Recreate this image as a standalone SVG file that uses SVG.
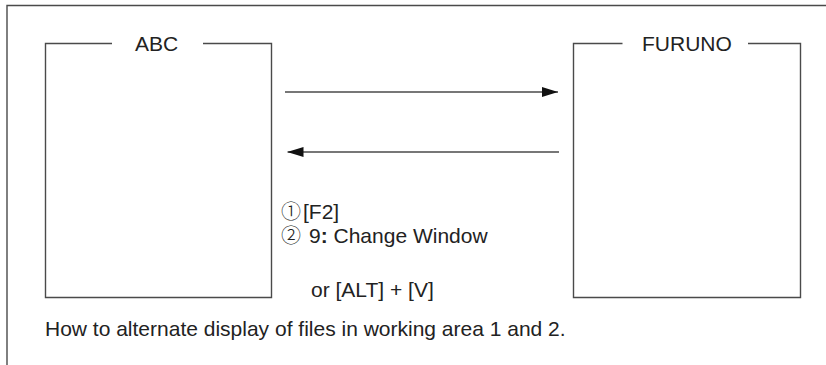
<svg xmlns="http://www.w3.org/2000/svg" width="826" height="365" viewBox="0 0 826 365">
<style>
.ln{fill:none;stroke:#4a4a4a;stroke-width:1.4}
.t{font-family:"Liberation Sans",Arial,sans-serif;font-size:21px;fill:#222}
.c{font-family:"Noto Sans CJK JP","Noto Sans CJK SC",sans-serif;font-size:20px;font-weight:300}
</style>
<defs>
<marker id="ah" viewBox="0 0 16 10" refX="16" refY="5" markerWidth="16" markerHeight="10" markerUnits="userSpaceOnUse" orient="auto">
<path d="M0,0 L16,5 L0,10 Z" fill="#111"/>
</marker>
</defs>
<rect width="826" height="365" fill="#fff"/>
<g id="frame"><path class="ln" d="M7,365 V5.5 H826" stroke-width="1.8"/></g>
<g id="abc">
<path class="ln" d="M112,43.5 H45.5 V297.5 H271.5 V43.5 H203"/>
<text class="t" x="135" y="51">ABC</text>
</g>
<g id="furuno">
<path class="ln" d="M622.5,43.5 H573.5 V297.5 H800.5 V43.5 H748"/>
<text class="t" x="642" y="51">FURUNO</text>
</g>
<g id="connectors">
<line class="ln" x1="285" y1="92" x2="558" y2="92" marker-end="url(#ah)"/>
<line class="ln" x1="559" y1="152" x2="287.5" y2="152" marker-end="url(#ah)"/>
</g>
<g id="labels">
<text class="t" x="281" y="219"><tspan class="c">①</tspan><tspan x="303">[F2]</tspan></text>
<text class="t" x="281" y="243"><tspan class="c">②</tspan><tspan x="309">9<tspan font-weight="bold">:</tspan> Change Window</tspan></text>
<text class="t" x="311" y="297">or [ALT] + [V]</text>
<text class="t" x="45" y="336">How to alternate display of files in working area 1 and 2.</text>
</g>
</svg>
